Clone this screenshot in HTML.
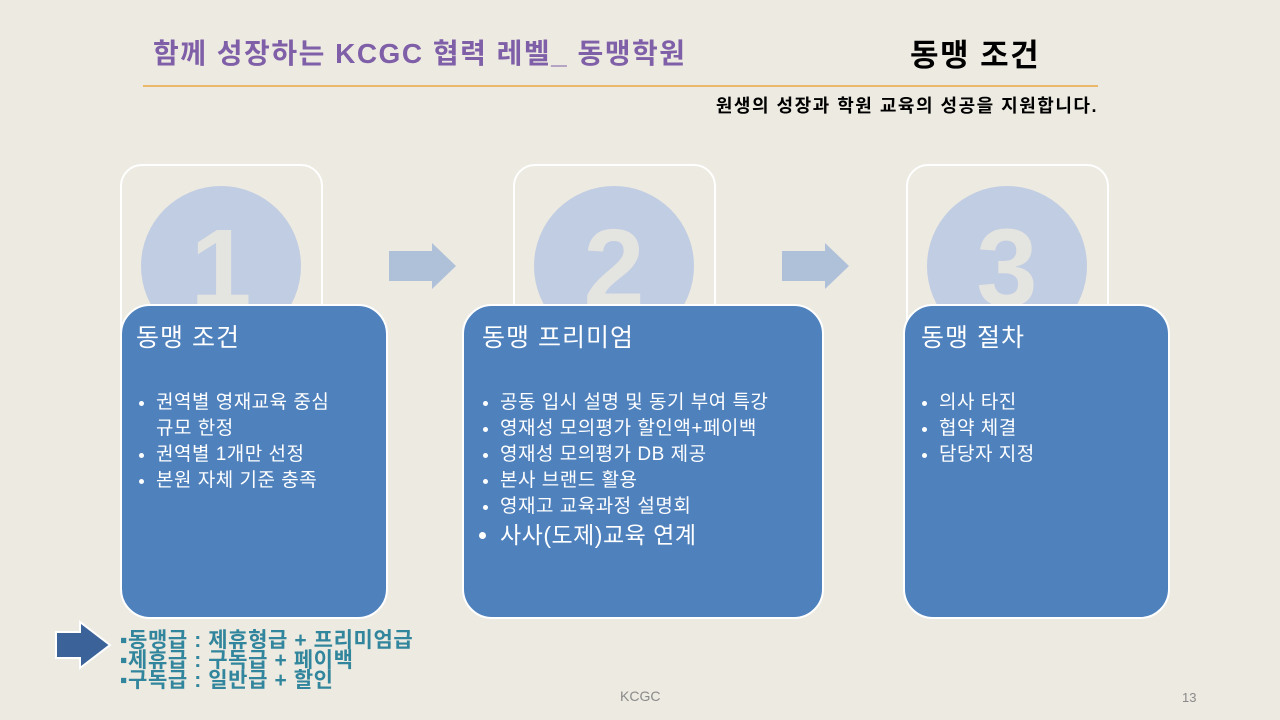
<!DOCTYPE html>
<html><head><meta charset="utf-8"><style>
body{margin:0;width:1280px;height:720px;background:#EDEAE1;position:relative;overflow:hidden;font-family:"Liberation Sans","Noto Sans CJK KR",sans-serif}
.a{position:absolute}
.outer{border:2px solid #fff;border-radius:22px;width:199px;height:200px;top:164px}
.circ{width:160px;height:160px;border-radius:50%;background:#C1CDE2;top:186px;color:#E4E4E0;font-size:110px;font-weight:bold;text-align:center;line-height:165px}
.blue{background:#4F81BD;border:2px solid #fff;border-radius:30px;top:304px;height:315px;color:#fff;box-sizing:border-box}
.blue h2{font-weight:normal;font-size:25px;margin:12px 0 0 14px;letter-spacing:1px}
.blue ul{margin:36px 0 0 0;padding-left:34px;font-size:19px;line-height:26px;letter-spacing:0.5px}
</style></head><body>
<div class="a" style="left:153px;top:32px;font-size:28px;font-weight:bold;color:#7F5FA8;letter-spacing:1.5px">함께 성장하는 KCGC 협력 레벨_ 동맹학원</div>
<div class="a" style="left:910px;top:30px;font-size:31px;font-weight:bold;color:#000;letter-spacing:1.5px">동맹 조건</div>
<div class="a" style="left:143px;top:85px;width:955px;height:2px;background:#EBB76A"></div>
<div class="a" style="right:182px;top:92px;font-size:18px;font-weight:bold;color:#000;letter-spacing:1.5px">원생의 성장과 학원 교육의 성공을 지원합니다.</div>

<div class="a outer" style="left:120px"></div>
<div class="a outer" style="left:513px"></div>
<div class="a outer" style="left:906px"></div>
<div class="a circ" style="left:141px">1</div>
<div class="a circ" style="left:534px">2</div>
<div class="a circ" style="left:927px">3</div>

<svg class="a" style="left:0;top:0" width="1280" height="720">
<polygon points="389,251 432,251 432,243 456,266 432,289 432,281 389,281" fill="#AFC0D9"/>
<polygon points="782,251 825,251 825,243 849,266 825,289 825,281 782,281" fill="#AFC0D9"/>
<polygon points="56,632 80,632 80,622 110,645 80,668 80,658 56,658" fill="#3B639A" stroke="#fff" stroke-width="2"/>
</svg>

<div class="a blue" style="left:120px;width:268px"><h2>동맹 조건</h2><ul style="width:190px"><li>권역별 영재교육 중심 규모 한정</li><li>권역별 1개만 선정</li><li>본원 자체 기준 충족</li></ul></div>
<div class="a blue" style="left:462px;width:362px"><h2 style="margin-left:18px">동맹 프리미엄</h2><ul style="padding-left:36px"><li>공동 입시 설명 및 동기 부여 특강</li><li>영재성 모의평가 할인액+페이백</li><li>영재성 모의평가 DB 제공</li><li>본사 브랜드 활용</li><li>영재고 교육과정 설명회</li><li style="font-size:23px;line-height:30px">사사(도제)교육 연계</li></ul></div>
<div class="a blue" style="left:903px;width:267px"><h2 style="margin-left:16px">동맹 절차</h2><ul style="padding-left:34px"><li>의사 타진</li><li>협약 체결</li><li>담당자 지정</li></ul></div>

<div class="a" style="left:120px;top:631px;font-size:21px;font-weight:bold;color:#31859C;line-height:20px;letter-spacing:0.6px">▪동맹급 : 제휴형급 + 프리미엄급<br>▪제휴급 : 구독급 + 페이백<br>▪구독급 : 일반급 + 할인</div>
<div class="a" style="left:620px;top:688px;font-size:14px;color:#8a8a8a">KCGC</div>
<div class="a" style="left:1182px;top:690px;font-size:13px;color:#8a8a8a">13</div>
</body></html>
